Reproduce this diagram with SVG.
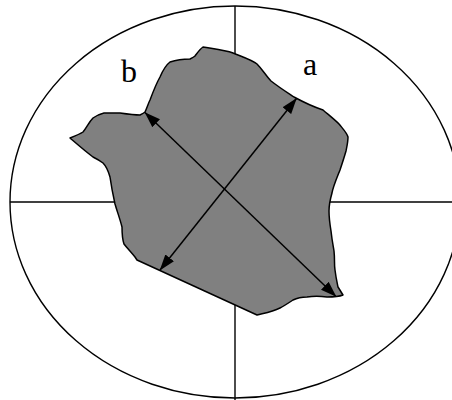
<svg xmlns="http://www.w3.org/2000/svg" width="452" height="400" viewBox="0 0 452 400">
<style>
.ln{stroke:#000;stroke-width:1.4;fill:none}
.blob{fill:#808080;stroke:#000;stroke-width:1.5;stroke-linejoin:round}
.arr{stroke:#000;stroke-width:1.5;fill:none;marker-start:url(#ah);marker-end:url(#ah)}
.lbl{font-family:"Liberation Serif","Times New Roman",serif;font-size:32px;fill:#000}
</style>
<defs>
<marker id="ah" markerUnits="userSpaceOnUse" markerWidth="16" markerHeight="12" viewBox="0 0 16 12" refX="15.5" refY="6" orient="auto-start-reverse">
<path d="M0,0.5 L16,6 L0,11.5 z" fill="#000"/>
</marker>
</defs>
<g id="frame">
<ellipse class="ln" cx="235" cy="202" rx="225" ry="196"/>
<line class="ln" x1="235" y1="6" x2="235" y2="400"/>
<line class="ln" x1="10" y1="202" x2="452" y2="202"/>
</g>
<g id="particle">
<path class="blob" d="M203,47 C215,49 225,50 233,53 C243,57 252,60 257,64 C263,70 266,76 271,81 C280,88 288,93 294,97 C305,103 314,107 323,110 C330,116 335,120 339,124 C343,129 347,133 348,137 C348,142 347,146 346,151 C344,158 342,164 340,170 C336,180 333,187 332,193 C330,200 329,205 329,211 C329,219 330,225 331,231 C332,240 333,245 334,251 C335,260 334,264 335,270 C336,278 337,282 338,287 C340,290 341,292 343,295 C338,297 332,297 327,297 C320,296 313,296 307,297 C300,297 297,298 293,300 C287,304 284,306 280,308 C272,312 265,313 257,315 L137,260 L135,257 C131,252 127,248 124,244 C122,238 122,232 122,227 C120,219 117,211 115,204 C113,195 111,184 110,177 C108,170 106,166 103,163 C99,160 97,159 93,157 C85,151 77,144 70,138 C75,136 80,134 83,132 C87,127 89,122 93,118 C97,115 100,114 104,113 C110,113 115,113 120,113 C127,114 134,115 140,115 C142,114 144,113 145,112 C147,108 148,104 150,100 C153,92 156,84 160,77 C163,70 166,65 170,62 C176,60 183,59 190,59 C192,58 194,57 195,56 C198,52 200,49 203,47 z"/>
</g>
<g id="connectors">
<line class="arr" x1="160" y1="270" x2="296.5" y2="98.5"/>
<line class="arr" x1="145" y1="112.5" x2="336" y2="296.5"/>
</g>
<g id="labels">
<text class="lbl" x="121" y="81.5">b</text>
<text class="lbl" x="303" y="75">a</text>
</g>
</svg>
